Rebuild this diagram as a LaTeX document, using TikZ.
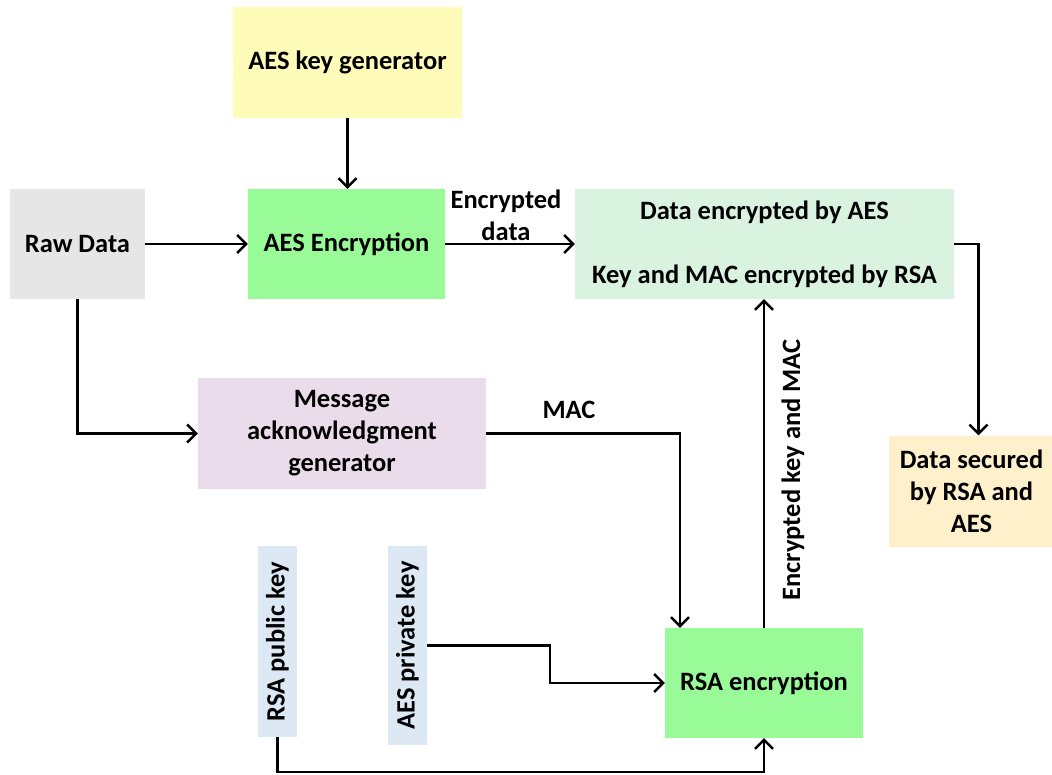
\documentclass[tikz,border=0pt]{standalone}
\usepackage{fontspec}
\setmainfont{Carlito}
\usetikzlibrary{arrows.meta}
\definecolor{cyellow}{RGB}{255,251,184}
\definecolor{cgreen}{RGB}{152,251,152}
\definecolor{cgray}{RGB}{230,230,230}
\definecolor{cmint}{RGB}{218,242,224}
\definecolor{cpink}{RGB}{234,220,234}
\definecolor{ccream}{RGB}{255,240,204}
\definecolor{cblue}{RGB}{221,232,245}
\begin{document}
\begin{tikzpicture}[x=1pt,y=-1pt,
  box/.style={inner sep=0pt, align=center, font=\bfseries\fontsize{26.5}{32}\selectfont},
  lbl/.style={inner sep=0pt, align=center, font=\bfseries\fontsize{26.5}{32}\selectfont},
  conn/.style={line width=2.4pt, -{Straight Barb[length=9pt,width=18pt,line width=2.4pt]}},
]
\useasboundingbox (0,0) rectangle (1052,774);
\fill[white] (0,0) rectangle (1052,774);

\node[box, fill=cyellow, minimum width=229, minimum height=111] (keygen) at (347.5,62.5) {AES key generator};
\node[box, fill=cgreen, minimum width=197, minimum height=110] (aesenc) at (346.5,244) {AES Encryption};
\node[box, fill=cgray, minimum width=135, minimum height=110] (raw) at (77.5,244) {Raw Data};
\node[box, fill=cmint, minimum width=379, minimum height=110] (dataenc) at (764.5,244) {Data encrypted by AES\\[32pt]Key and MAC encrypted by RSA};
\node[box, fill=cpink, minimum width=288, minimum height=111] (msg) at (342,433.5) {Message\\acknowledgment\\generator};
\node[box, fill=ccream, minimum width=165, minimum height=111] (secured) at (971.5,491) {Data secured\\by RSA and\\AES};
\node[box, fill=cblue, rotate=90, minimum width=191, minimum height=39] (pubkey) at (277.5,641.5) {RSA public key};
\node[box, fill=cblue, rotate=90, minimum width=199, minimum height=39] (privkey) at (407.5,645.5) {AES private key};
\node[box, fill=cgreen, minimum width=198, minimum height=110] (rsa) at (764,683) {RSA encryption};

\draw[conn] (keygen.south) -- (keygen.south |- aesenc.north);
\draw[conn] (raw) -- (aesenc);
\draw[conn] (aesenc) -- (dataenc);
\node[lbl] (lblenc) at (506,215) {Encrypted\\data};
\draw[conn] (dataenc.east) -| ([xshift=7pt]secured.north);
\draw[conn] (raw.south) |- (msg.west);
\draw[conn] (msg.east) -| ([xshift=-84pt]rsa.north);
\node[lbl] (lblmac) at (569,410) {MAC};
\draw[conn] (privkey.south) -- ++(123,0) |- (rsa.west);
\draw[conn] (pubkey.west) -- ++(0,35) -| (rsa.south);
\draw[conn] (rsa.north) -- (rsa.north |- dataenc.south);
\node[lbl, rotate=90] (lblkm) at (793,470) {Encrypted key and MAC};
\end{tikzpicture}
\end{document}
